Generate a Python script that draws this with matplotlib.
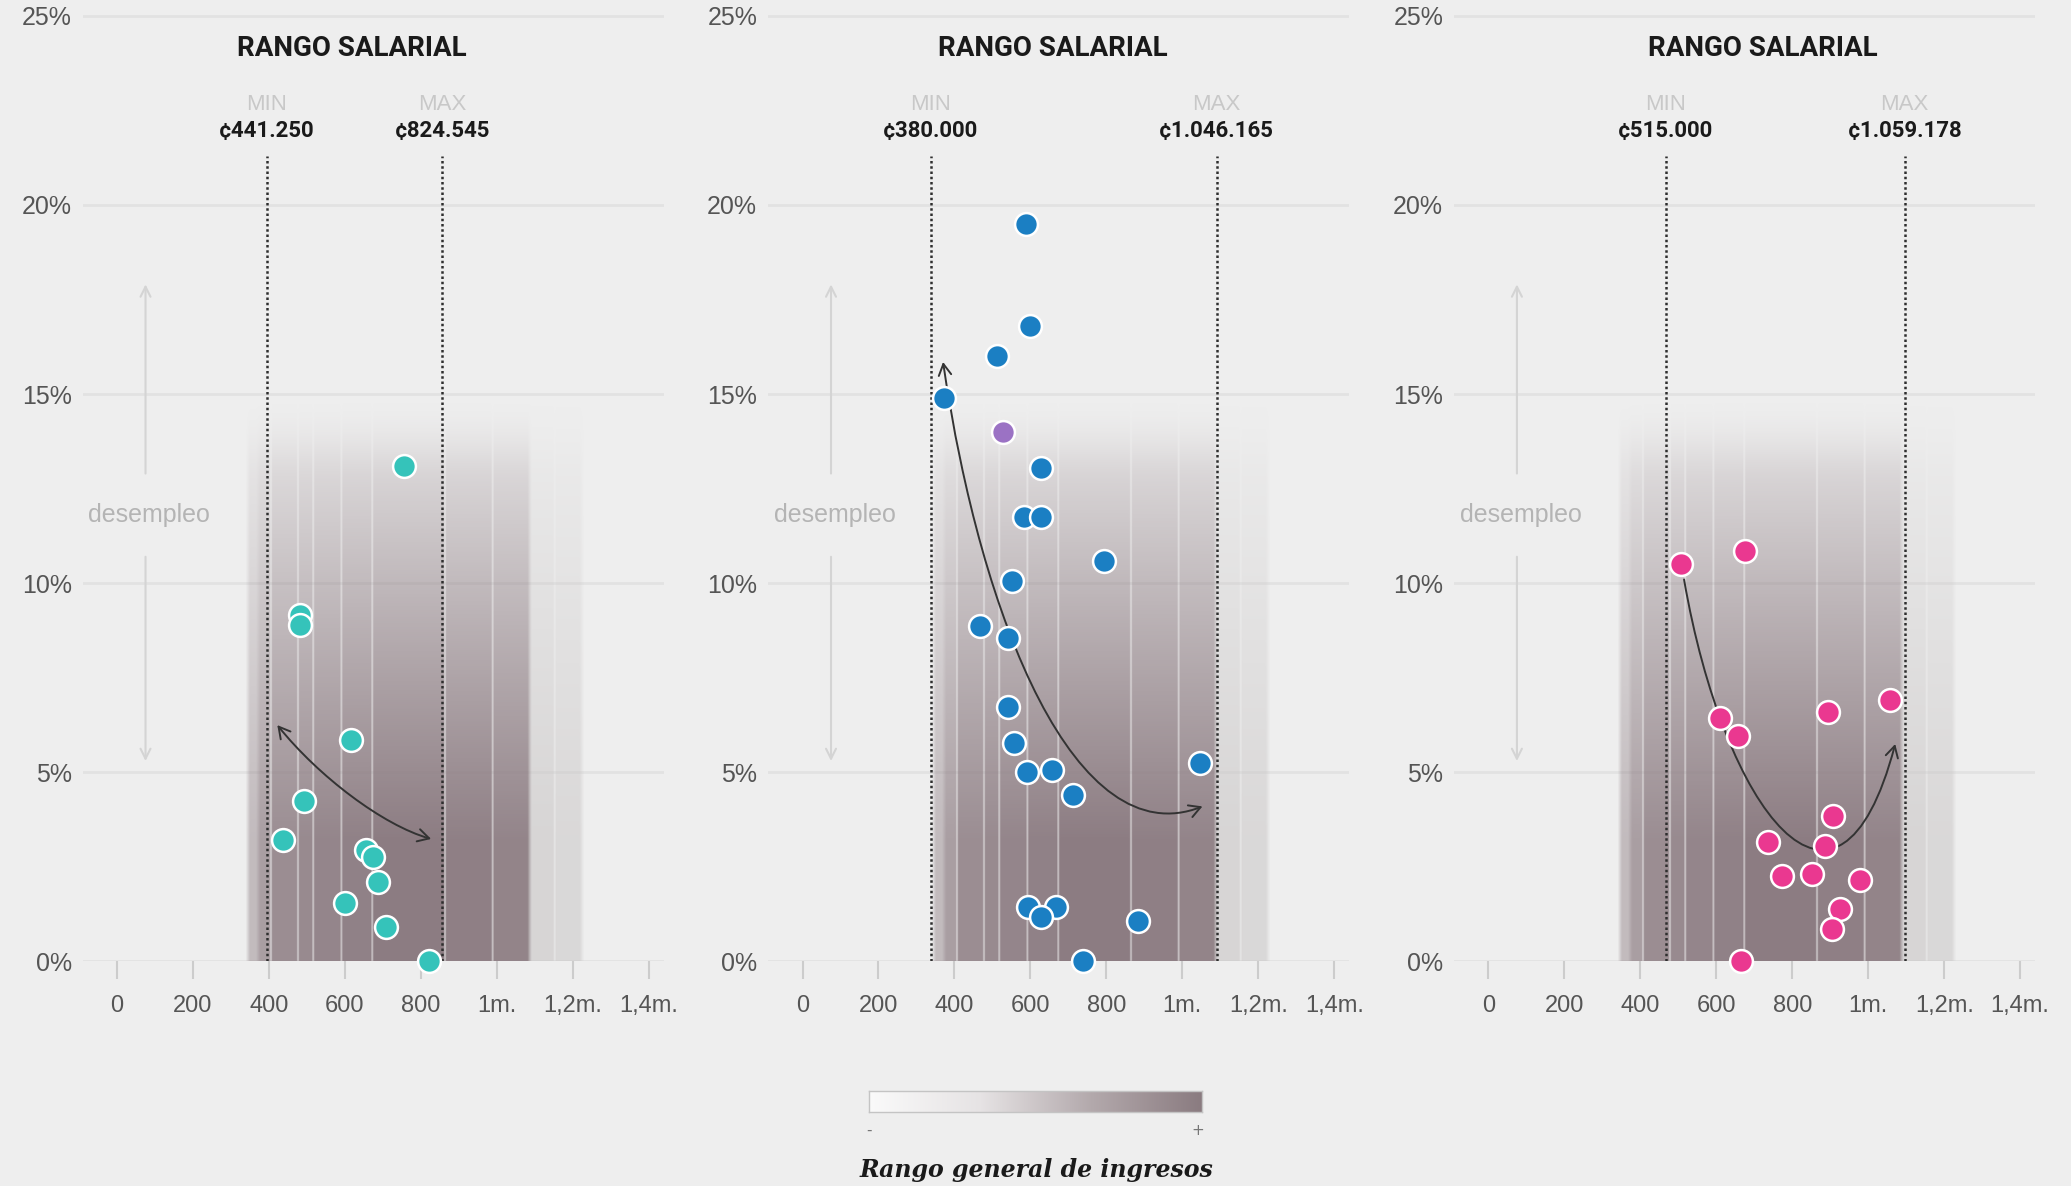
import numpy as np
import matplotlib.pyplot as plt
from matplotlib.colors import LinearSegmentedColormap
from matplotlib.patches import FancyArrowPatch
from matplotlib.path import Path

# Datos: salario (miles de colones) y desempleo (%)
sal_1 = [755, 482, 482, 615, 493, 436, 655, 673, 686, 601, 707, 822]
des_1 = [13.1, 9.15, 8.9, 5.85, 4.25, 3.2, 2.95, 2.75, 2.1, 1.55, 0.9, 0.0]

sal_2 = [588, 599, 512, 372, 627, 582, 629, 794, 551, 467, 540, 540, 557, 592, 657, 713,
         1047, 593, 668, 627, 884, 738]
des_2 = [19.5, 16.8, 16.0, 14.9, 13.05, 11.75, 11.75, 10.6, 10.05, 8.88, 8.55, 6.73, 5.77,
         5.0, 5.05, 4.4, 5.25, 1.45, 1.45, 1.18, 1.06, 0.0]
sal_2_otro = [529]      # punto morado
des_2_otro = [14.0]

sal_3 = [507, 675, 1056, 610, 657, 893, 908, 737, 886, 774, 851, 978, 926, 904, 665]
des_3 = [10.5, 10.85, 6.9, 6.45, 5.95, 6.6, 3.85, 3.15, 3.05, 2.25, 2.3, 2.15, 1.4, 0.85, 0.0]

minimos = ['¢441.250', '¢380.000', '¢515.000']
maximos = ['¢824.545', '¢1.046.165', '¢1.059.178']
# donde están dibujadas las líneas punteadas en el original
linea_min = [395, 338, 467]
linea_max = [856, 1090, 1096]

# flechas de tendencia (puntos de control de una curva de Bezier)
tendencia_1 = [(422, 6.25), (530, 4.9), (700, 3.6), (827, 3.24)]
tendencia_2 = [(370, 15.85), (470, 9.0), (720, 2.8), (1053, 4.1)]
tendencia_3 = [(515, 10.1), (620, 4.0), (920, 0.0), (1071, 5.75)]
puntas = ['<->', '<->', '->']

# rango general de ingresos (franjas del fondo)
franjas_borde = [345, 372, 405, 476, 516, 590, 671, 862, 987, 1085, 1150, 1222]
franjas_peso = [0.45, 0.7, 0.85, 0.88, 0.92, 0.96, 1.0, 0.97, 0.93, 0.62, 0.55]
lineas_blancas = [405, 476, 516, 590, 671, 862, 987, 1150]

xticks = [0, 200, 400, 600, 800, 1000, 1200, 1400]
xtick_labels = ['0', '200', '400', '600', '800', '1m.', '1,2m.', '1,4m.']
yticks = [0, 5, 10, 15, 20, 25]
ytick_labels = ['0%', '5%', '10%', '15%', '20%', '25%']

series = [(sal_1, des_1, '#35c3ba'), (sal_2, des_2, '#1b7fc3'), (sal_3, des_3, '#ea3890')]
tendencias = [tendencia_1, tendencia_2, tendencia_3]
titulo_x = [617, 658, 723]

fondo = '#eeeeee'
malva = np.array([0.55, 0.49, 0.51])
gris = np.array([0.79, 0.78, 0.78])


def imagen_franjas():
    xs = np.arange(340, 1230, 1.0)
    ys = np.linspace(0, 15.2, 320)
    idx = np.searchsorted(franjas_borde, xs, side='right') - 1
    peso = np.where((idx >= 0) & (idx < len(franjas_peso)),
                    np.array(franjas_peso + [0])[np.clip(idx, 0, len(franjas_peso))], 0.0)
    mezcla = (xs >= 1085).astype(float)
    k = np.ones(11) / 11
    peso = np.convolve(peso, k, mode='same')
    mezcla = np.convolve(mezcla, k, mode='same')
    for lb in lineas_blancas:
        peso = peso * np.where(np.abs(xs - lb) < 2.5, 0.45, 1.0)
    t = np.clip((15.2 - ys) / 12, 0, 1) ** 0.9
    u = np.clip((15.2 - ys) / 2.5, 0, 1)
    a_y = t * u * u * (3 - 2 * u)
    rgba = np.zeros((len(ys), len(xs), 4))
    color = malva[None, :] * (1 - mezcla[:, None]) + gris[None, :] * mezcla[:, None]
    rgba[:, :, :3] = color[None, :, :]
    rgba[:, :, 3] = a_y[:, None] * peso[None, :]
    return rgba


fig = plt.figure(figsize=(20.71, 11.86), dpi=100)
fig.patch.set_facecolor(fondo)

lefts = [0.0400, 0.3710, 0.7022]
banda = imagen_franjas()

for i in range(3):
    ax = fig.add_axes([lefts[i], 0.1893, 0.2806, 0.8069])
    ax.set_facecolor('none')
    for s in ax.spines.values():
        s.set_visible(False)

    for y in yticks:
        ax.axhline(y, color='#e2e2e2', lw=2, zorder=0)

    ax.imshow(banda, extent=[340, 1230, 0, 15.2], origin='lower', aspect='auto',
              interpolation='bilinear', zorder=1)

    # líneas de mínimo y máximo
    for xl, txt, cab in [(linea_min[i], minimos[i], 'MIN'), (linea_max[i], maximos[i], 'MAX')]:
        ax.plot([xl, xl], [0, 21.3], ls=(0, (1, 1.1)), color='#2e2e2e', lw=1.8, zorder=3)
        ax.text(xl, 22.65, cab, ha='center', va='center', fontsize=16, color='#c8c8c8',
                family='Liberation Sans')
        ax.text(xl, 21.95, txt, ha='center', va='center', fontsize=16, color='#1a1a1a',
                family='Roboto', fontweight='bold')

    ax.text(titulo_x[i], 24.15, 'RANGO SALARIAL', ha='center', va='center', fontsize=20,
            color='#1a1a1a', family='Roboto', fontweight='bold')

    # etiqueta de desempleo
    ax.text(85, 11.8, 'desempleo', ha='center', va='center', fontsize=18, color='#b4b4b4',
            family='Liberation Sans')
    ax.annotate('', xy=(75, 17.9), xytext=(75, 12.9),
                arrowprops=dict(arrowstyle='->', color='#d4d4d4', lw=1.5,
                                shrinkA=0, shrinkB=0, mutation_scale=18))
    ax.annotate('', xy=(75, 5.3), xytext=(75, 10.7),
                arrowprops=dict(arrowstyle='->', color='#d4d4d4', lw=1.5,
                                shrinkA=0, shrinkB=0, mutation_scale=18))

    # flecha de tendencia
    cods = [Path.MOVETO, Path.CURVE4, Path.CURVE4, Path.CURVE4]
    fl = FancyArrowPatch(path=Path(tendencias[i], cods),
                         arrowstyle=puntas[i] + ',head_length=0.45,head_width=0.25',
                         mutation_scale=18, color='#333333', lw=1.4, zorder=4)
    ax.add_patch(fl)

    sx, sy, col = series[i]
    ax.scatter(sx, sy, s=270, color=col, edgecolors='white', linewidths=1.8,
               zorder=5, clip_on=False)
    if i == 1:
        ax.scatter(sal_2_otro, des_2_otro, s=270, color='#9b72c4', edgecolors='white',
                   linewidths=1.8, zorder=5, clip_on=False)

    ax.set_xlim(-90, 1440)
    ax.set_ylim(0, 25.3)
    ax.set_xticks(xticks)
    ax.set_xticklabels(xtick_labels, family='Liberation Sans', fontsize=17, color='#555555')
    ax.set_yticks(yticks)
    ax.set_yticklabels(ytick_labels, family='Liberation Sans', fontsize=18, color='#555555')
    ax.tick_params(axis='x', length=13, width=1.5, color='#cccccc', pad=11)
    ax.tick_params(axis='y', length=0, pad=8)

# leyenda de la escala de ingresos
cax = fig.add_axes([0.4196, 0.0624, 0.1608, 0.0178])
cmap = LinearSegmentedColormap.from_list('ingresos', ['#fafafa', '#e6e3e4', '#b3a9ac', '#8a7b80'])
cax.imshow(np.linspace(0, 1, 256)[None, :], cmap=cmap, aspect='auto')
cax.set_xticks([])
cax.set_yticks([])
for s in cax.spines.values():
    s.set_color('#c4c4c4')
    s.set_linewidth(1)

fig.text(0.4196, 0.0468, '-', ha='center', va='center', fontsize=11, color='#777777')
fig.text(0.5785, 0.0468, '+', ha='center', va='center', fontsize=11, color='#777777')
fig.text(0.5006, 0.0134, 'Rango general de ingresos', ha='center', va='center', fontsize=17,
         family='DejaVu Serif', fontweight='bold', fontstyle='italic', color='#1a1a1a')

fig.savefig('out.png', dpi=100, facecolor=fig.get_facecolor())
